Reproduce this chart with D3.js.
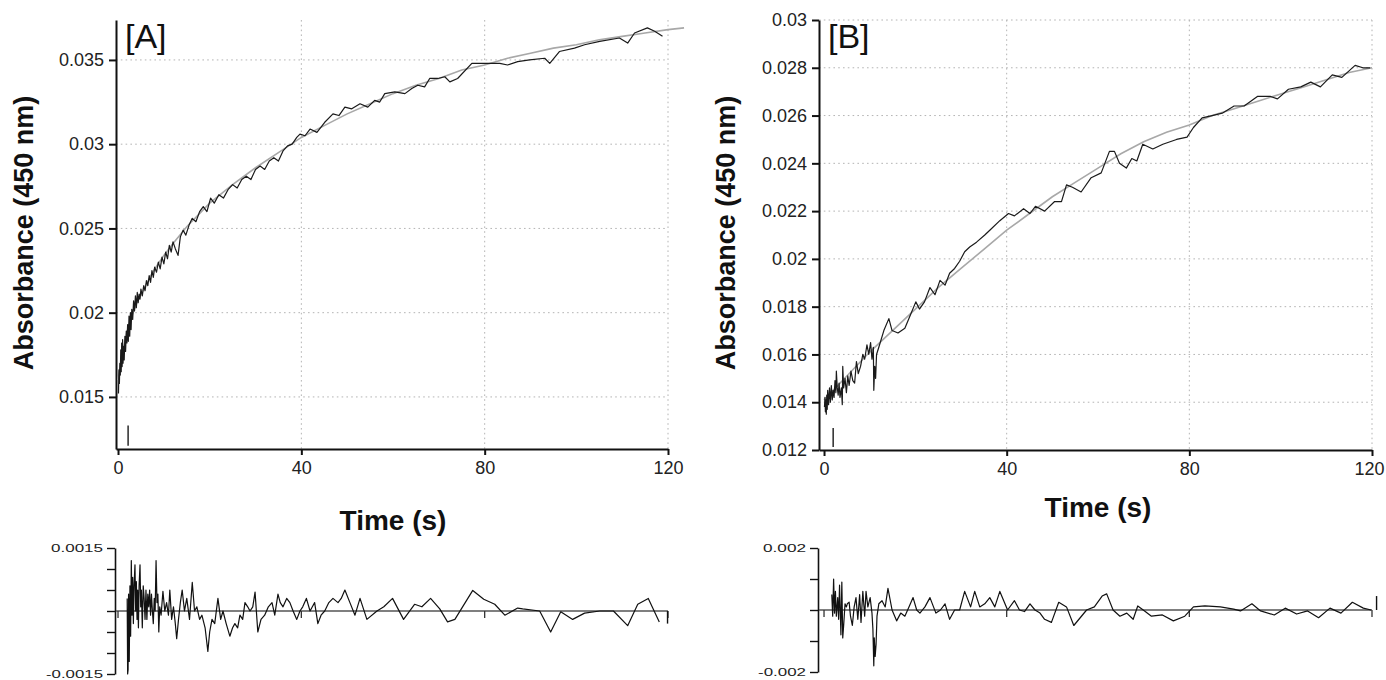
<!DOCTYPE html>
<html><head><meta charset="utf-8">
<script src="https://cdn.jsdelivr.net/npm/d3@7"></script>
<style>body{margin:0;background:#fff}svg{display:block}</style>
</head><body><svg id="c" width="1386" height="680"></svg>
<script>
// ---------------- Panel A data ----------------
const timeA = [0.1,0.2,0.3,0.4,0.5,0.6,0.7,0.8,0.9,1.0,1.1,1.2,1.35,1.5,1.65,1.8,1.95,2.1,2.25,2.4,2.55,2.7,2.85,3.0,3.2,3.4,3.6,3.8,4.0,4.2,4.4,4.6,4.8,5.0,5.3,5.6,5.9,6.2,6.5,6.8,7.1,7.4,7.7,8.0,8.4,8.8,9.2,9.6,10.0,10.4,10.8,11.2,11.6,12.0,12.5,13.1,13.6,14.2,14.8,15.5,16.2,17.0,17.8,18.6,19.4,20.2,21.0,22.0,23.0,24.0,25.0,26.0,27.0,28.0,29.0,30.0,31.0,32.0,33.0,34.0,35.0,36.0,37.0,38.0,39.0,39.7,40.8,41.9,43.4,45.1,46.9,48.2,49.5,51.0,52.8,54.5,56.0,57.1,58.2,60.4,62.6,64.1,65.4,66.9,68.0,69.8,71.3,72.4,74.1,77.2,83.3,85.0,87.2,89.8,93.1,94.2,96.3,99.6,101.8,105.1,109.4,111.2,112.7,115.5,117.1,118.8];
const absA = [0.0152,0.0166,0.0158,0.0170,0.0163,0.0178,0.0165,0.0182,0.0168,0.0184,0.0170,0.0180,0.0172,0.0186,0.0177,0.0189,0.0182,0.0193,0.0183,0.0198,0.0186,0.0200,0.0190,0.0202,0.0196,0.0207,0.0201,0.0210,0.0203,0.0212,0.0206,0.0211,0.0208,0.0214,0.0210,0.0216,0.0213,0.0219,0.0216,0.0222,0.0218,0.0225,0.0221,0.0227,0.0224,0.0230,0.0226,0.0233,0.0229,0.0236,0.0232,0.0240,0.0236,0.0242,0.0238,0.0234,0.0245,0.0249,0.0246,0.0252,0.0256,0.0254,0.0260,0.0263,0.0260,0.0268,0.0265,0.0270,0.0268,0.0273,0.0276,0.0274,0.0279,0.0281,0.0279,0.0285,0.0287,0.0285,0.0290,0.0292,0.0290,0.0296,0.0299,0.0300,0.0304,0.0306,0.0305,0.0309,0.0307,0.0313,0.0318,0.0317,0.0322,0.0321,0.0324,0.0322,0.0326,0.0325,0.0330,0.0331,0.0330,0.0333,0.0335,0.0334,0.0339,0.0339,0.0340,0.0337,0.0339,0.0348,0.0348,0.0347,0.0349,0.0350,0.0351,0.0348,0.0355,0.0357,0.0359,0.0361,0.0363,0.0360,0.0366,0.0369,0.0367,0.0364];
const fitTimeA = [0,1,2,3,4,6,8,10,12,15,20,25,30,35,40,45,50,55,60,65,70,75,80,85,90,95,100,105,110,115,120,123.5];
const fitA = [0.0160,0.0176,0.0189,0.0198,0.0205,0.0216,0.0226,0.0234,0.0241,0.0251,0.0265,0.0276,0.0286,0.0295,0.0304,0.0311,0.0318,0.0324,0.0330,0.0335,0.0339,0.0344,0.0347,0.0351,0.0354,0.0357,0.0359,0.0362,0.0364,0.0366,0.0368,0.0369];
const markTimeA = [2.2,2.2];
const markAbsA = [0.0121,0.0133];
const resTimeA = [2.0,2.1,2.2,2.3,2.45,2.6,2.75,2.9,3.05,3.2,3.35,3.5,3.7,3.85,4.0,4.15,4.3,4.45,4.6,4.8,4.95,5.1,5.3,5.5,5.7,5.9,6.1,6.3,6.5,6.7,6.9,7.1,7.3,7.5,7.7,7.9,8.1,8.3,8.5,8.7,8.9,9.1,9.4,9.8,10.2,10.6,11.0,11.3,11.7,12.1,12.5,12.8,13.2,13.6,14.0,14.5,15.0,15.6,16.2,16.7,17.2,17.8,18.3,19.0,19.6,20.0,20.5,21.1,21.8,22.4,22.9,23.6,24.4,25.0,25.5,26.1,26.6,27.2,27.7,28.3,28.8,29.4,29.9,30.5,31.2,32.0,32.8,33.6,34.2,34.9,35.4,36.0,36.8,37.5,38.2,39.0,39.7,40.3,41.1,41.9,42.4,42.9,43.6,44.3,45.1,46.0,46.9,48.0,48.7,49.5,50.6,51.7,52.8,54.3,56.5,58.0,59.9,62.3,64.7,66.3,68.2,70.2,71.9,73.5,77.4,79.8,82.2,84.4,87.2,88.3,92.0,94.4,96.6,99.2,101.8,105.1,108.1,111.2,113.4,115.7,118.1];
const resA = [0.0003,-0.0015,-0.0014,0.0004,-0.0012,0.0006,-0.0006,0.0012,-0.0001,0.0008,-0.0003,0.0006,0.0011,0.0000,0.0007,-0.0002,0.0005,-0.0004,0.0006,0.0011,0.0001,0.0005,-0.0004,0.0006,0.0003,-0.0002,0.0005,-0.0002,0.0004,0.0001,0.0005,-0.0001,0.0004,0.0000,-0.0003,0.0003,0.0000,0.0012,0.0002,0.0004,-0.0005,0.0001,-0.0001,0.00047,0.0000,0.0002,-0.0001,0.0005,-0.0002,0.0001,-0.0003,-0.00066,-0.0002,0.0002,0.0005,0.0000,0.0003,-0.0002,0.00068,0.0000,0.0001,-0.0002,-0.0001,-0.0004,-0.00096,-0.0005,-0.0002,-0.0003,0.0003,-0.0002,0.0000,-0.0003,-0.0006,-0.0004,-0.0003,-0.0004,-0.0001,-0.0002,0.0002,0.0001,0.0000,0.0001,0.00045,-0.0005,-0.0002,-0.0001,0.0001,0.0002,-0.0001,0.0004,0.0002,0.0001,0.0003,0.0002,0.0000,-0.0002,0.0000,0.0001,0.0003,0.0000,0.0001,0.0002,-0.0003,-0.0001,0.0000,0.0002,0.0003,0.0002,0.0003,0.0005,0.0002,-0.0001,0.0003,-0.0002,0.0000,0.0001,0.0003,-0.0002,0.00016,0.0001,0.0003,0.00005,-0.00026,-0.0002,0.00049,0.00028,0.00016,-0.0001,0.00007,0.00005,0.0,-0.0005,-0.00002,-0.0002,-0.00005,0.0,0.0,-0.00035,0.00016,0.0003,-0.00026];
const resEndTimeA = [119.9,119.9];
const resEndA = [0,-0.0003];

// ---------------- Panel B data ----------------
const timeB = [0.1,0.2,0.3,0.4,0.5,0.6,0.7,0.8,1.0,1.2,1.4,1.6,1.8,2.0,2.2,2.4,2.6,2.7,2.9,3.1,3.3,3.5,3.8,4.0,4.1,4.3,4.6,4.9,5.2,5.5,5.9,6.3,6.7,7.1,7.5,8.0,8.5,8.9,9.4,9.8,10.2,10.5,10.8,10.9,11.1,11.3,11.5,12.0,13.1,14.2,14.9,16.2,17.7,18.8,20.1,20.9,22.0,23.2,24.3,25.4,26.5,27.5,28.6,29.7,30.8,31.9,33.4,35.2,36.3,38.5,40.4,41.7,43.7,45.1,46.3,48.3,50.5,52.0,53.1,54.4,56.3,58.5,60.7,62.5,63.6,64.7,66.2,67.4,68.5,69.8,72.0,74.2,77.2,79.5,80.9,82.8,85.0,87.2,89.8,92.0,94.9,97.8,99.3,101.7,104.4,106.6,108.7,111.3,113.4,116.3,118.0,119.6];
const absB = [0.0138,0.0142,0.0136,0.0141,0.0135,0.0143,0.0137,0.0145,0.0139,0.0146,0.0140,0.0147,0.0141,0.0145,0.0142,0.0149,0.0144,0.0153,0.0146,0.0143,0.0148,0.0142,0.0146,0.0139,0.0155,0.0146,0.0150,0.0144,0.0151,0.0147,0.0153,0.0149,0.0148,0.0157,0.0152,0.0155,0.0160,0.0158,0.0164,0.0160,0.0165,0.0158,0.0163,0.0145,0.0155,0.0150,0.0160,0.0163,0.0170,0.0175,0.0170,0.0169,0.0171,0.0176,0.0182,0.0179,0.0182,0.0188,0.0185,0.0191,0.0189,0.0194,0.0196,0.0199,0.0203,0.0205,0.0207,0.0210,0.0212,0.0216,0.0219,0.0218,0.0221,0.0219,0.0222,0.0220,0.0224,0.0224,0.0231,0.0230,0.0228,0.0234,0.0236,0.0245,0.0245,0.0240,0.0238,0.0242,0.0241,0.0248,0.0246,0.0248,0.0250,0.0251,0.0255,0.0259,0.0260,0.0261,0.0264,0.0264,0.0268,0.0268,0.0267,0.0271,0.0272,0.0274,0.0272,0.0277,0.0276,0.0281,0.0280,0.0280];
const fitTimeB = [0,5,10,15,20,25,30,35,40,45,50,55,60,65,70,75,80,85,90,95,100,105,110,115,120];
const fitB = [0.0141,0.0151,0.0161,0.0170,0.0179,0.0188,0.0196,0.0204,0.0212,0.0219,0.0226,0.0232,0.0238,0.0244,0.0249,0.0253,0.0256,0.0260,0.0263,0.0266,0.0269,0.0272,0.0275,0.0278,0.0280];
const markTimeB = [2.0,2.0];
const markAbsB = [0.01213,0.01292];
const resTimeB = [1.7,1.9,2.1,2.3,2.5,2.7,3.0,3.2,3.4,3.7,3.9,4.1,4.3,4.6,4.9,5.1,5.5,5.8,6.2,6.6,7.0,7.4,7.8,8.1,8.5,8.9,9.2,9.6,10.1,10.5,10.7,10.9,11.0,11.2,11.4,11.6,12.0,12.7,13.4,14.0,14.9,15.9,16.8,17.7,18.6,19.5,20.3,21.0,22.1,23.2,24.5,25.5,26.5,27.5,28.6,29.7,30.8,32.1,33.0,34.1,35.2,36.3,37.4,38.5,40.2,41.7,42.8,43.9,45.1,46.2,47.3,48.3,49.8,51.4,53.1,54.7,57.5,59.2,60.9,61.9,63.3,64.8,66.3,67.7,68.7,70.2,71.7,74.1,76.5,79.0,80.9,83.4,86.8,89.7,91.2,93.7,95.6,98.6,101.0,103.5,105.9,108.3,110.8,113.2,115.7,118.1,119.8];
const resB = [0.0005,-0.0002,0.0010,-0.0001,0.0006,-0.0002,0.0004,-0.0003,0.0008,-0.0008,0.0009,-0.0009,-0.0005,0.0002,0.0001,0.0002,0.00025,-0.0002,-0.0005,0.0001,0.0004,-0.0003,0.0005,-0.0004,0.0006,-0.0002,0.0006,0.0001,0.0004,-0.0001,-0.0006,-0.0018,-0.0009,-0.0015,-0.0011,-0.0002,0.0002,0.0003,0.0001,0.0007,0.0000,-0.00035,-0.0001,-0.0002,0.0001,0.0004,0.0000,-0.0001,0.0001,0.0004,-0.0001,0.0000,0.0002,-0.0003,0.0000,0.0000,0.0006,0.0001,0.0006,0.0001,0.0002,0.0004,0.0001,0.0006,0.0000,0.0003,0.0000,-0.00005,0.0002,0.0,-0.0001,-0.0003,-0.0004,0.00025,0.0001,-0.0005,0.0,0.0001,0.00045,0.00052,0.0,-0.0002,-0.0001,-0.0003,0.00013,-0.00003,-0.0002,-0.00016,-0.00035,-0.0002,0.0001,0.00013,0.0001,0.00003,-0.00003,0.0002,-0.00003,-0.00016,0.00006,-0.00013,-0.00003,-0.00025,0.00006,-0.0001,0.00025,0.00006,0.0];
const resEndTimeB = [121.0,121.0];
const resEndB = [0.00045,0];

// ---------------- Tick labels ----------------
const xTickVals = [0,40,80,120];
const xTickLabels = ["0","40","80","120"];
const yTickValsA = [0.015,0.02,0.025,0.03,0.035];
const yTickLabelsA = ["0.015","0.02","0.025","0.03","0.035"];
const yTickValsB = [0.012,0.014,0.016,0.018,0.02,0.022,0.024,0.026,0.028,0.03];
const yTickLabelsB = ["0.012","0.014","0.016","0.018","0.02","0.022","0.024","0.026","0.028","0.03"];
const resTickValsA = [-0.0015,-0.001,-0.0005,0,0.0005,0.001,0.0015];
const resTickLabelsA = ["-0.0015","0.0015"];
const resTickValsB = [-0.002,-0.001,0,0.001,0.002];
const resTickLabelsB = ["-0.002","0.002"];
const panelLabels = ["[A]","[B]"];
const yTitle = "Absorbance (450 nm)";
const xTitle = "Time (s)";

// ---------------- Drawing ----------------
const svg = d3.select('#c');
const FONT = "'Liberation Sans', Arial, Helvetica, sans-serif";

function zip(a,b){ return a.map((d,i)=>[d,b[i]]); }

function drawPanel(o) {
  const g = svg.append('g');
  const x = d3.scaleLinear().domain(o.xDomain).range([o.left, o.right]);
  const y = d3.scaleLinear().domain(o.yDomain).range([o.bottom, o.top]);
  // grid
  g.append('g').selectAll('line.h').data(o.yTicks.filter(v => y(v) < o.bottom - 2)).join('line')
    .attr('x1', o.left).attr('x2', o.right).attr('y1', d=>y(d)).attr('y2', d=>y(d))
    .attr('stroke', '#b4b4b4').attr('stroke-width', 1).attr('stroke-dasharray', '1.6,3.2');
  g.append('g').selectAll('line.v').data(xTickVals.filter(v => v > 0)).join('line')
    .attr('x1', d=>x(d)).attr('x2', d=>x(d)).attr('y1', o.top).attr('y2', o.bottom)
    .attr('stroke', '#b4b4b4').attr('stroke-width', 1).attr('stroke-dasharray', '1.6,3.2');
  // axes
  const ya = g.append('g').attr('transform', `translate(${o.left},0)`)
    .call(d3.axisLeft(y).tickValues(o.yTicks).tickFormat((d,i)=>o.yLabels[i]).tickSize(7).tickPadding(5).tickSizeOuter(0));
  const xa = g.append('g').attr('transform', `translate(0,${o.bottom})`)
    .call(d3.axisBottom(x).tickValues(xTickVals).tickFormat((d,i)=>xTickLabels[i]).tickSize(6).tickPadding(6).tickSizeOuter(0));
  [ya, xa].forEach(a => {
    a.select('.domain').attr('stroke', '#111').attr('stroke-width', 2);
    a.selectAll('.tick line').attr('stroke', '#111').attr('stroke-width', 2);
    a.selectAll('.tick text').attr('font-family', FONT).attr('font-size', 18).attr('fill', '#222');
  });
  // keep the last x label inside the page
  xa.selectAll('.tick text').filter(d => d === 120).attr('dx', o.lastDx);
  // fit and data
  const line = d3.line().x(d=>x(d[0])).y(d=>y(d[1]));
  g.append('path').datum(zip(o.fitT, o.fitV)).attr('d', line)
    .attr('fill', 'none').attr('stroke', '#a8a8a8').attr('stroke-width', 1.6);
  g.append('path').datum(zip(o.dataT, o.dataV)).attr('d', line)
    .attr('fill', 'none').attr('stroke', '#1a1a1a').attr('stroke-width', 1.2).attr('stroke-linejoin', 'round');
  g.append('path').datum(zip(o.markT, o.markV)).attr('d', line)
    .attr('fill', 'none').attr('stroke', '#1a1a1a').attr('stroke-width', 1.4);
  // labels
  g.append('text').text(o.panelLabel).attr('x', o.labelX).attr('y', 48)
    .attr('font-family', FONT).attr('font-size', 34).attr('fill', '#111');
  g.append('text').text(yTitle)
    .attr('transform', `translate(${o.yTitleX},233) rotate(-90)`).attr('text-anchor', 'middle')
    .attr('font-family', FONT).attr('font-size', 27).attr('font-weight', 'bold').attr('fill', '#111');
  g.append('text').text(xTitle).attr('x', o.xTitleX).attr('y', o.xTitleY).attr('text-anchor', 'middle')
    .attr('font-family', FONT).attr('font-size', 28).attr('font-weight', 'bold').attr('fill', '#111');

  // residual panel
  const yr = d3.scaleLinear().domain(o.rDomain).range([o.rBottom, o.rTop]);
  const ra = g.append('g').attr('transform', `translate(${o.left - 1},0)`)
    .call(d3.axisLeft(yr).tickValues(o.rTicks).tickFormat('').tickSize(8).tickSizeOuter(0));
  ra.select('.domain').attr('stroke', '#111').attr('stroke-width', 1.6);
  ra.selectAll('.tick line').attr('stroke', '#111').attr('stroke-width', 1.4);
  [o.rDomain[0], o.rDomain[1]].forEach((v,i) => {
    g.append('text').text(o.rLabels[i]).attr('x', o.left - 13).attr('y', yr(v) + 4)
      .attr('text-anchor', 'end').attr('font-family', FONT).attr('font-size', 11)
      .attr('textLength', o.rLabelLen[i]).attr('lengthAdjust', 'spacingAndGlyphs').attr('fill', '#222');
  });
  g.append('line').attr('x1', o.left).attr('x2', x(120)).attr('y1', yr(0)).attr('y2', yr(0))
    .attr('stroke', '#555').attr('stroke-width', 1.5);
  g.append('g').selectAll('line').data(xTickVals).join('line')
    .attr('x1', d=>x(d)).attr('x2', d=>x(d)).attr('y1', yr(0)).attr('y2', yr(0) + 7)
    .attr('stroke', '#333').attr('stroke-width', 1.3);
  const rline = d3.line().x(d=>x(d[0])).y(d=>yr(d[1]));
  g.append('path').datum(zip(o.resT, o.resV)).attr('d', rline)
    .attr('fill', 'none').attr('stroke', '#111').attr('stroke-width', 1.2).attr('stroke-linejoin', 'round');
  g.append('path').datum(zip(o.resEndT, o.resEndV)).attr('d', rline)
    .attr('fill', 'none').attr('stroke', '#111').attr('stroke-width', 1.4);
}

drawPanel({
  left: 116, right: 668, top: 20, bottom: 449,
  xDomain: [-0.44, 120], yDomain: [0.01191, 0.03737],
  yTicks: yTickValsA, yLabels: yTickLabelsA, lastDx: 0,
  dataT: timeA, dataV: absA, fitT: fitTimeA, fitV: fitA, markT: markTimeA, markV: markAbsA,
  panelLabel: panelLabels[0], labelX: 125, yTitleX: 33, xTitleX: 393, xTitleY: 530,
  rDomain: [-0.0015, 0.0015], rTop: 548, rBottom: 674, rTicks: resTickValsA,
  rLabels: resTickLabelsA, rLabelLen: [57, 52],
  resT: resTimeA, resV: resA, resEndT: resEndTimeA, resEndV: resEndA
});
drawPanel({
  left: 819, right: 1372, top: 20, bottom: 450,
  xDomain: [-1.1, 120], yDomain: [0.012, 0.030],
  yTicks: yTickValsB, yLabels: yTickLabelsB, lastDx: -3,
  dataT: timeB, dataV: absB, fitT: fitTimeB, fitV: fitB, markT: markTimeB, markV: markAbsB,
  panelLabel: panelLabels[1], labelX: 828, yTitleX: 735, xTitleX: 1098, xTitleY: 517,
  rDomain: [-0.002, 0.002], rTop: 548, rBottom: 672, rTicks: resTickValsB,
  rLabels: resTickLabelsB, rLabelLen: [48, 43],
  resT: resTimeB, resV: resB, resEndT: resEndTimeB, resEndV: resEndB
});
</script></body></html>
